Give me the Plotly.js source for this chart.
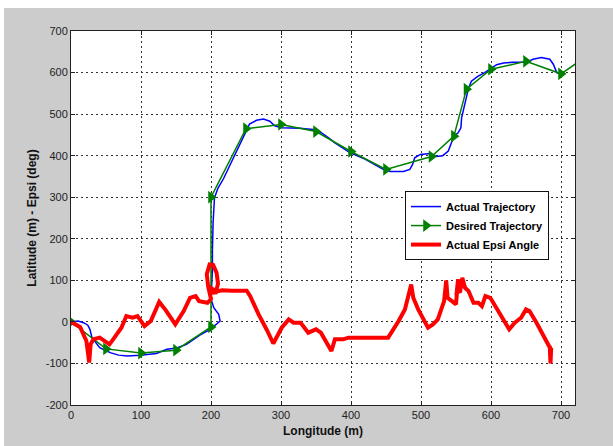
<!DOCTYPE html>
<html>
<head>
<meta charset="utf-8">
<script src="https://cdn.plot.ly/plotly-3.0.1.min.js"></script>
<style>
  html, body { margin: 0; padding: 0; background: #ffffff; width: 613px; height: 446px; overflow: hidden; }
  #chart { position: absolute; left: 4px; top: 8px; width: 609px; height: 438px; }
</style>
</head>
<body>
<div id="chart"></div>
<script>
// Desired trajectory waypoints (m)
const desiredX = [0, 50, 100, 150, 200, 200, 250, 300, 350, 400, 450, 515, 547, 565, 600, 650, 700, 740];
const desiredY = [0, -65, -75, -68, -12, 300, 465, 475, 458, 410, 367, 398, 447, 560, 608, 627, 597, 643];

// Actual (measured) trajectory (m)
const actualX = [0, 10, 18, 24, 27, 30, 41, 56, 68, 80, 99, 122, 137, 151, 165, 184, 199, 208, 213, 211, 204, 200,
  201, 202, 202, 203, 205, 210, 218, 230, 250, 255, 265, 275, 284, 291, 301, 327, 346, 358, 368, 377, 399, 420,
  446, 456, 475, 484, 488, 491, 499, 513, 522, 531, 539, 544, 547, 553, 557, 558, 563, 568, 572, 581, 591, 599,
  608, 618, 632, 651, 660, 672, 684, 689, 694, 698];
const actualY = [0, 2, -2, -8, -18, -38, -62, -74, -80, -82, -80, -76, -66, -63, -54, -32, -18, -6, 2, 18, 34, 55,
  82, 123, 171, 240, 299, 322, 345, 388, 458, 476, 485, 488, 483, 472, 467, 466, 463, 455, 443, 431, 407, 392,
  367, 362, 362, 367, 379, 395, 403, 405, 398, 400, 411, 435, 447, 455, 467, 491, 531, 563, 579, 591, 600, 608,
  619, 623, 625, 625, 632, 636, 632, 620, 600, 597];

// Heading error Epsi (deg) along longitude
const epsiX = [0, 13, 22, 26, 28, 32, 41, 48, 55, 62, 72, 79, 88, 95, 105, 114, 126, 135, 149, 161, 170, 178, 183,
  195, 200, 196, 194, 198, 203, 208, 210, 207, 200, 197, 203, 210, 216, 230, 251, 256, 268, 280, 289, 301, 311,
  318, 328, 339, 350, 357, 367, 372, 377, 389, 396, 415, 453, 468, 477, 486, 489, 496, 510, 517, 524, 533, 536,
  538, 550, 553, 551, 556, 559, 563, 568, 575, 582, 587, 592, 599, 608, 617, 626, 634, 643, 650, 655, 665, 672,
  679, 684, 685, 686, 687];
const epsiY = [0, -12, -46, -98, -54, -42, -38, -46, -54, -38, -14, 14, 10, 14, -10, 2, 48, 29, -6, 26, 58, 62, 50,
  46, 55, 85, 115, 138, 137, 118, 92, 71, 70, 85, 78, 74, 76, 75, 75, 62, 18, -20, -52, -14, 6, -2, -2, -26, -18,
  -26, -58, -70, -42, -42, -38, -38, -38, 2, 30, 90, 58, 30, -14, -6, 6, 50, 100, 58, 42, 103, 71, 74, 106, 82,
  74, 46, 46, 38, 62, 58, 34, 6, -18, -2, 10, 30, 26, -2, -22, -46, -62, -100, -62, -62];

const xTicks = [0, 100, 200, 300, 400, 500, 600, 700];
const yTicks = [-200, -100, 0, 100, 200, 300, 400, 500, 600, 700];

const traces = [
  {
    x: actualX, y: actualY, name: 'Actual Trajectory', type: 'scatter', mode: 'lines',
    line: { color: '#0000ff', width: 1.5 }
  },
  {
    x: desiredX, y: desiredY, name: 'Desired Trajectory', type: 'scatter', mode: 'lines+markers',
    line: { color: '#008000', width: 1.5 },
    marker: { symbol: 'triangle-right', size: 11, color: '#008000' }
  },
  {
    x: epsiX, y: epsiY, name: 'Actual Epsi Angle', type: 'scatter', mode: 'lines',
    line: { color: '#ff0000', width: 4, shape: 'linear' }
  }
];

const axisCommon = {
  showline: true, mirror: 'ticks', linecolor: '#222222', linewidth: 1,
  ticks: 'inside', ticklen: 4, tickcolor: '#222222',
  showgrid: true, gridcolor: '#333333', gridwidth: 1, griddash: '2px,3px',
  zeroline: false,
  tickfont: { family: 'Liberation Sans, Arial, sans-serif', size: 11, color: '#222222' }
};

const layout = {
  width: 609, height: 438,
  margin: { l: 67, r: 38, t: 23, b: 41, pad: 0 },
  paper_bgcolor: '#cccccc',
  plot_bgcolor: '#ffffff',
  showlegend: true,
  xaxis: Object.assign({}, axisCommon, {
    range: [0, 720], tickvals: xTicks, ticktext: xTicks.map(String),
    title: { text: 'Longitude (m)', standoff: 6,
      font: { family: 'Liberation Sans, Arial, sans-serif', size: 12, color: '#111111', weight: 'bold' } }
  }),
  yaxis: Object.assign({}, axisCommon, {
    range: [-200, 700], tickvals: yTicks, ticktext: yTicks.map(String),
    title: { text: 'Latitude (m) - Epsi (deg)', standoff: 6,
      font: { family: 'Liberation Sans, Arial, sans-serif', size: 12, color: '#111111', weight: 'bold' } }
  }),
  legend: {
    x: 0.6627, y: 0.572, xanchor: 'left', yanchor: 'top',
    bgcolor: '#ffffff', bordercolor: '#111111', borderwidth: 1,
    font: { family: 'Liberation Sans, Arial, sans-serif', size: 11, color: '#000000', weight: 'bold' },
    tracegroupgap: 0, itemwidth: 30
  }
};

Plotly.newPlot('chart', traces, layout, { staticPlot: true, displayModeBar: false });
</script>
</body>
</html>
